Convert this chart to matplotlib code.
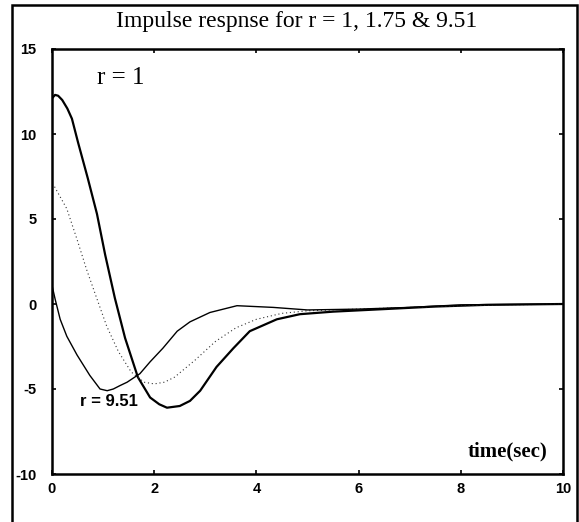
import matplotlib
matplotlib.use("Agg")
import matplotlib.pyplot as plt
from matplotlib.patches import Rectangle

plt.rcParams["axes.unicode_minus"] = False

# values
t_thick = [0, 0.06, 0.12, 0.2, 0.3, 0.39, 0.51, 0.7, 0.88, 1.04, 1.23, 1.43, 1.68, 1.92,
           2.1, 2.25, 2.5, 2.7, 2.9, 3.22, 3.55, 3.87, 4.4, 4.85, 5.5, 6.5, 7.5, 8.5, 10]
y_thick = [12.1, 12.3, 12.25, 12.0, 11.5, 10.9, 9.5, 7.4, 5.3, 2.9, 0.35, -2.0, -4.3, -5.5,
           -5.9, -6.1, -6.0, -5.7, -5.1, -3.7, -2.6, -1.6, -0.9, -0.6, -0.45, -0.3, -0.15, -0.05, 0]

t_dot = [0.05, 0.29, 0.49, 0.68, 0.88, 1.07, 1.3, 1.55, 1.8, 2.0, 2.2, 2.4, 2.8, 3.2,
         3.6, 4.0, 4.5, 5.0, 6, 7, 8, 10]
y_dot = [6.9, 5.6, 3.8, 2.0, 0.3, -1.3, -2.8, -4.0, -4.6, -4.7, -4.6, -4.3, -3.3, -2.2,
         -1.4, -0.9, -0.55, -0.4, -0.3, -0.2, -0.1, 0]

t_thin = [0, 0.06, 0.16, 0.29, 0.49, 0.74, 0.94, 1.08, 1.2, 1.33, 1.47, 1.72, 1.92, 2.17, 2.45,
          2.7, 3.09, 3.62, 4.33, 5, 6, 7, 8, 10]
y_thin = [1.1, 0.3, -0.9, -1.9, -3.0, -4.2, -5.0, -5.1, -5.0, -4.8, -4.6, -4.1, -3.4, -2.6, -1.6,
          -1.05, -0.5, -0.1, -0.2, -0.35, -0.3, -0.2, -0.05, 0]

xticks = [0, 2, 4, 6, 8, 10]
yticks = [-10, -5, 0, 5, 10, 15]

W, H = 579, 522
fig = plt.figure(figsize=(W / 100, H / 100), dpi=100)
ax = fig.add_axes([52 / W, 1 - 474 / H, 511 / W, 425 / H])

ax.plot(t_thick, y_thick, color="black", lw=1.6)
ax.plot(t_dot, y_dot, color="#333333", lw=0.8, linestyle=(0, (1, 2.5)))
ax.plot(t_thin, y_thin, color="black", lw=1.0)

ax.set_xlim(0, 10)
ax.set_ylim(-10, 15)
ax.set_xticks(xticks)
ax.set_yticks(yticks)
ax.tick_params(direction="in", length=3, width=1.2, top=True, right=True, labelsize=10.5)
ax.tick_params(axis="y", pad=11)
ax.tick_params(axis="x", pad=6)
for lab in ax.get_xticklabels() + ax.get_yticklabels():
    lab.set_fontweight("bold")
    lab.set_family("Liberation Sans")
for s in ax.spines.values():
    s.set_linewidth(1.8)

serif = "Liberation Serif"
fig.text(297 / W, 1 - 22 / H, "Impulse respnse for r = 1, 1.75 & 9.51",
         ha="center", va="center", family=serif, fontsize=17)
ax.text(0.88, 13.3, "r = 1", ha="left", va="center", family=serif, fontsize=18)
ax.text(0.55, -5.75, "r = 9.51", ha="left", va="center", family="Liberation Sans",
        fontsize=12, fontweight="bold")
ax.text(9.7, -8.65, "time(sec)", ha="right", va="center", family=serif,
        fontsize=15, fontweight="bold")

# outer border of the scanned figure
fig.add_artist(Rectangle((12 / W, -0.01), 565 / W, 1 - 5 / H + 0.01, transform=fig.transFigure,
                         fill=False, lw=1.8, ec="black"))

fig.savefig("out.png", dpi=100)
